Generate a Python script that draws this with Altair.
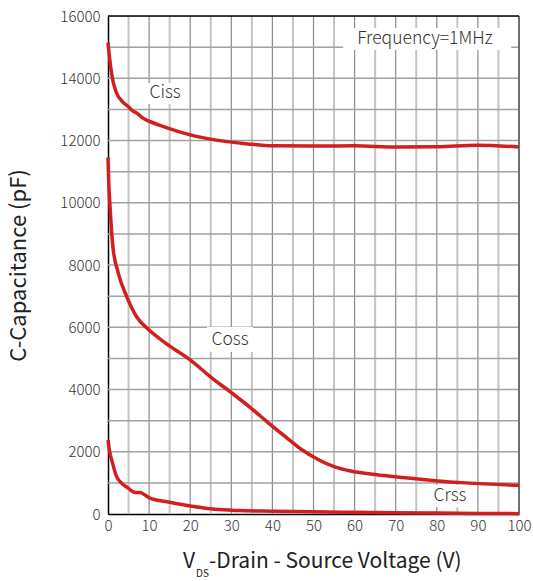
import altair as alt
import pandas as pd

# ---- data ----
ciss_x = [0, 0.3, 1, 2, 3.5, 5, 6, 7, 8.5, 10, 14, 20, 26, 34, 40, 50, 60, 70, 80, 90, 100]
ciss_y = [15150, 14750, 14050, 13550, 13250, 13080, 12950, 12880, 12720, 12620, 12420, 12180,
          12020, 11890, 11830, 11820, 11830, 11790, 11800, 11850, 11790]

coss_x = [0, 0.2, 0.5, 1.2, 2.5, 4.6, 7, 10, 14, 20, 25, 30, 35, 39, 43, 47, 51, 55, 59,
          65, 71, 79, 87, 100]
coss_y = [11450, 10600, 9860, 8580, 7740, 6970, 6330, 5910, 5490, 4950, 4400, 3900, 3380,
          2930, 2500, 2080, 1760, 1520, 1380, 1270, 1180, 1080, 1000, 920]

crss_x = [0, 0.4, 0.9, 2.1, 3.3, 4.9, 6.6, 7.8, 9, 10.2, 14, 20, 26, 32, 40, 50, 60, 70,
          80, 90, 100]
crss_y = [2380, 2000, 1740, 1200, 990, 830, 690, 690, 610, 510, 400, 260, 150, 110, 90, 70,
          55, 40, 30, 20, 10]

x_ticks = [0, 10, 20, 30, 40, 50, 60, 70, 80, 90, 100]
x_grid_major = [10, 20, 30, 40, 50, 60, 70, 80, 90]
x_grid_minor = [5, 15, 25, 35, 45, 55, 65, 75, 85, 95]
y_grid = [1000, 2000, 3000, 4000, 5000, 6000, 7000, 8000, 9000, 10000, 11000, 12000,
          13000, 14000, 15000]
y_ticks = [0, 2000, 4000, 6000, 8000, 10000, 12000, 14000, 16000]

label_text = ["Ciss", "Coss", "Crss", "Frequency=1MHz"]
label_x = [13.9, 29.7, 83.2, 77.1]
label_y = [13530, 5590, 580, 15260]
box_x1 = [9.7, 24.1, 78.0, 57.2]
box_x2 = [18.2, 35.3, 88.5, 98.1]
box_y1 = [13170, 5205, 225, 14910]
box_y2 = [13850, 6010, 930, 15615]

FONT = "Noto Sans CJK SC"
RED = "#d11f1f"
W, H = 411, 498

rows = []
for name, xs_, ys_ in [("Ciss", ciss_x, ciss_y), ("Coss", coss_x, coss_y), ("Crss", crss_x, crss_y)]:
    for a, b in zip(xs_, ys_):
        rows.append({"series": name, "v": a, "c": b})
curves = pd.DataFrame(rows)

xs = alt.Scale(domain=[0, 100], nice=False, zero=False)
ys = alt.Scale(domain=[0, 16000], nice=False, zero=False)

grid_minor = alt.Chart(pd.DataFrame({"v": x_grid_minor})).mark_rule(
    color="#c4c4c4", strokeWidth=2).encode(x=alt.X("v:Q", scale=xs))
grid_major = alt.Chart(pd.DataFrame({"v": x_grid_major})).mark_rule(
    color="#8c8c8c", strokeWidth=1.2).encode(x=alt.X("v:Q", scale=xs))
grid_h = alt.Chart(pd.DataFrame({"c": y_grid})).mark_rule(
    color="#a2a2a2", strokeWidth=1.5).encode(y=alt.Y("c:Q", scale=ys))

labels = pd.DataFrame({"t": label_text, "x": label_x, "y": label_y,
                       "x1": box_x1, "x2": box_x2, "y1": box_y1, "y2": box_y2})

boxes = alt.Chart(labels).mark_rect(color="white").encode(
    x=alt.X("x1:Q", scale=xs), x2="x2:Q",
    y=alt.Y("y1:Q", scale=ys), y2="y2:Q")

border_right = alt.Chart(pd.DataFrame({"v": [100]})).mark_rule(
    color="#707070", strokeWidth=2).encode(x=alt.X("v:Q", scale=xs))
border_top = alt.Chart(pd.DataFrame({"c": [16000]})).mark_rule(
    color="black", strokeWidth=1.5).encode(y=alt.Y("c:Q", scale=ys))

lines = alt.Chart(curves).mark_line(color=RED, strokeWidth=3.5, interpolate="monotone").encode(
    x=alt.X("v:Q", scale=xs,
            axis=alt.Axis(values=x_ticks, title=None, grid=False, ticks=False, format="d",
                          labelFlush=False, labelOverlap=False,
                          labelFontSize=15, labelColor="#333333", labelFont=FONT,
                          labelFontWeight=300,
                          labelPadding=4, domainColor="black", domainWidth=1.5)),
    y=alt.Y("c:Q", scale=ys,
            axis=alt.Axis(values=y_ticks, title="C-Capacitance (pF)", grid=False, ticks=False,
                          format="d", labelFlush=False, labelOverlap=False,
                          labelFontSize=15, labelColor="#333333", labelFont=FONT,
                          labelFontWeight=300,
                          labelPadding=8, domainColor="black", domainWidth=1.5,
                          titleFont=FONT, titleFontSize=22, titleFontWeight="normal",
                          titleColor="#222222", titlePadding=29)),
    detail="series:N")

texts = alt.Chart(labels).mark_text(font=FONT, fontSize=17.5, fontWeight=300,
                                    color="#333333").encode(
    x=alt.X("x:Q", scale=xs), y=alt.Y("y:Q", scale=ys), text="t:N")

# x-axis title with subscript
xt1 = alt.Chart(pd.DataFrame({"t": ["V"]})).mark_text(
    font=FONT, fontSize=21, fontWeight="normal", color="#222222", align="left",
    baseline="alphabetic").encode(x=alt.value(75), y=alt.value(552), text="t:N")
xt2 = alt.Chart(pd.DataFrame({"t": ["DS"]})).mark_text(
    font=FONT, fontSize=10, fontWeight="normal", color="#222222", align="left",
    baseline="alphabetic").encode(x=alt.value(88), y=alt.value(561), text="t:N")
xt3 = alt.Chart(pd.DataFrame({"t": ["-Drain - Source Voltage (V)"]})).mark_text(
    font=FONT, fontSize=21, fontWeight="normal", color="#222222", align="left",
    baseline="alphabetic").encode(x=alt.value(101), y=alt.value(552), text="t:N")

chart = alt.layer(grid_minor, grid_major, grid_h, boxes, border_right, border_top,
                  lines, texts, xt1, xt2, xt3).properties(
    width=W, height=H,
    autosize=alt.AutoSizeParams(type="none"),
    padding={"left": 108, "top": 16, "right": 14, "bottom": 67},
).configure_view(stroke=None).configure(background="white")

chart.save("out.html", embed_options={"renderer": "svg", "actions": False})
